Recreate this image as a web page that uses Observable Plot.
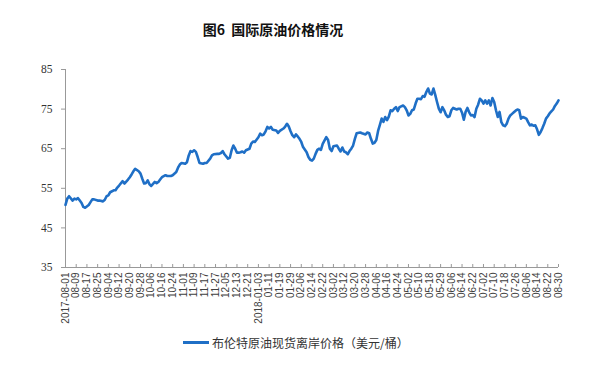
<!DOCTYPE html>
<html>
<head>
<meta charset="utf-8">
<script src="https://cdn.jsdelivr.net/npm/d3@7"></script>
<script src="https://cdn.jsdelivr.net/npm/@observablehq/plot@0.6"></script>
<style>
  html, body { margin: 0; padding: 0; background: #fff; }
  #wrap { position: relative; width: 591px; height: 368px; overflow: hidden; }
  #title { position: absolute; top: 19px; left: 173px; width: 200px; text-align: center;
    font-family: "Noto Sans CJK SC", sans-serif; font-weight: bold; font-size: 14px; color: #111; }
  #chart { position: absolute; top: 50px; left: 0; }
  #legend { position: absolute; top: 334px; left: 183px; display: flex; align-items: center;
    font-family: "Noto Sans CJK SC", sans-serif; font-size: 12px; color: #333; }
  #legend .sw { width: 26px; height: 3px; background: #1f6fc6; margin-right: 3px; }
</style>
</head>
<body>
<div id="wrap">
  <div id="title">图6&nbsp;&nbsp;国际原油价格情况</div>
  <div id="chart"></div>
  <div id="legend"><span class="sw"></span><span>布伦特原油现货离岸价格（美元/桶）</span></div>
</div>
<script>
// trading-day index (0 = 2017-08-01) and Brent spot price (USD/bbl)
const dayIndex = [0,1,2,4,5,6,7,8,9,10,11,13,14,15,16,18,19,21,22,23,24,25,27,28,29,30,32,33,35,36,37,38,39,41,42,43,44,45,46,47,48,50,51,52,53,54,56,57,59,60,62,63,64,65,67,68,69,70,71,72,73,74,75,77,78,79,81,82,83,85,86,87,88,89,91,92,93,94,95,96,97,98,99,100,101,103,104,105,106,108,109,110,111,112,113,114,115,116,118,119,120,122,123,124,125,126,127,128,129,130,131,132,133,135,136,137,138,139,140,141,142,143,144,146,147,148,149,150,152,153,154,155,156,157,158,159,160,161,162,163,165,166,168,169,170,171,172,173,174,175,176,177,178,179,180,181,182,183,184,185,186,187,189,190,191,192,193,194,195,196,197,198,199,200,201,202,203,204,205,206,207,208,209,210,211,212,213,214,215,216,217,218,219,220,221,222,223,224,225,226,227,228,229,230,231,232,233,234,235,236,237,238,239,240,241,242,243,244,245,246,247,248,249,250,251,252,253,254,255,256,257,258,259,260,261,262,263,264,265,266,267,268,269,270,271,272,273,274,275,276];
const brentPrice = [50.8,52.4,53.0,51.9,52.4,52.2,52.5,51.9,51.3,50.3,50.1,50.8,51.5,52.2,52.2,51.9,51.9,51.7,52.1,53.0,53.2,54.0,54.5,54.5,55.2,55.7,56.8,56.2,57.2,57.8,58.5,59.3,59.9,59.3,58.7,57.4,56.2,56.3,57.0,56.0,55.6,56.6,56.3,56.6,57.2,57.8,58.3,58.1,58.1,58.3,59.1,60.2,61.0,61.4,61.2,61.6,63.3,64.4,64.2,64.6,64.2,62.9,61.4,61.2,61.4,61.4,62.5,63.3,63.6,63.7,63.7,63.9,64.4,63.6,62.5,62.7,64.6,65.8,65.0,64.0,64.0,64.1,64.3,64.0,64.6,65.0,66.3,66.8,66.7,67.9,68.8,68.4,68.6,69.4,70.5,70.1,70.5,69.8,69.6,69.0,69.5,70.1,70.6,71.3,70.6,69.4,68.4,67.9,68.6,68.1,67.5,66.7,65.4,64.1,62.9,62.2,62.0,62.5,63.7,64.7,65.0,64.7,66.2,67.9,67.2,65.0,64.4,65.6,65.8,65.0,64.3,65.3,64.3,64.1,63.6,64.4,65.0,65.8,67.5,68.9,69.1,68.9,68.6,69.1,68.9,67.5,66.3,66.5,67.2,69.5,71.0,72.6,71.8,73.0,72.2,73.1,74.7,74.5,75.1,75.5,74.5,75.5,75.9,75.5,74.7,73.4,73.8,74.7,74.9,76.4,77.6,77.6,77.5,78.3,78.1,79.3,80.2,78.9,78.7,80.2,78.6,76.8,75.1,74.2,75.5,74.7,73.6,73.0,73.2,74.7,75.3,75.1,74.9,75.1,75.1,74.1,72.3,74.3,75.3,74.2,73.4,73.5,73.0,75.1,76.1,77.6,77.2,76.4,77.2,76.4,77.2,75.9,77.8,76.8,74.7,73.0,74.3,71.7,70.9,70.7,71.3,72.6,73.4,73.8,74.2,74.6,74.9,74.7,72.6,73.0,72.8,72.6,71.7,70.9,71.1,70.8,70.9,69.9,68.5,69.2,70.2,71.3,72.6,73.2,73.9,74.4,74.9,75.8,76.4,77.2];
// x tick labels, one every 6 trading days
const tickLabels = ["2017-08-01","08-09","08-17","08-25","09-04","09-12","09-20","09-28","10-06","10-16","10-24","11-01","11-09","11-17","11-27","12-05","12-13","12-21","2018-01-03","01-11","01-19","01-29","02-06","02-14","02-22","03-02","03-12","03-20","03-28","04-06","04-16","04-24","05-02","05-10","05-18","05-29","06-06","06-14","06-22","07-02","07-10","07-18","07-26","08-06","08-14","08-22","08-30"];
const yTicks = [35,45,55,65,75,85];
const tickStep = 6;

const data = dayIndex.map((d, i) => ({day: d, price: brentPrice[i]}));
const xTickPos = tickLabels.map((_, i) => i * tickStep);

const chart = Plot.plot({
  width: 591,
  height: 275,
  marginLeft: 65,
  marginRight: 33,
  marginTop: 19,
  marginBottom: 58,
  x: {domain: [0, (tickLabels.length - 1) * tickStep]},
  y: {domain: [35, 85]},
  style: {background: "#fff"},
  marks: [
    Plot.axisY({ticks: yTicks, tickSize: 4, tickPadding: 9, stroke: "#999", fill: "#333",
      fontSize: 11.5, fontFamily: "Liberation Serif", label: null}),
    Plot.axisX({ticks: xTickPos, tickFormat: d => tickLabels[d / tickStep], tickRotate: -90,
      tickSize: -3, tickPadding: 8, stroke: "#999", fill: "#404040",
      fontSize: 10, fontFamily: "Liberation Sans", label: null}),
    Plot.ruleX([0], {stroke: "#999"}),
    Plot.ruleY([35], {stroke: "#999"}),
    Plot.line(data, {x: "day", y: "price", stroke: "#1f6fc6", strokeWidth: 2.6, strokeLinejoin: "round"})
  ]
});
document.getElementById("chart").appendChild(chart);
</script>
</body>
</html>
